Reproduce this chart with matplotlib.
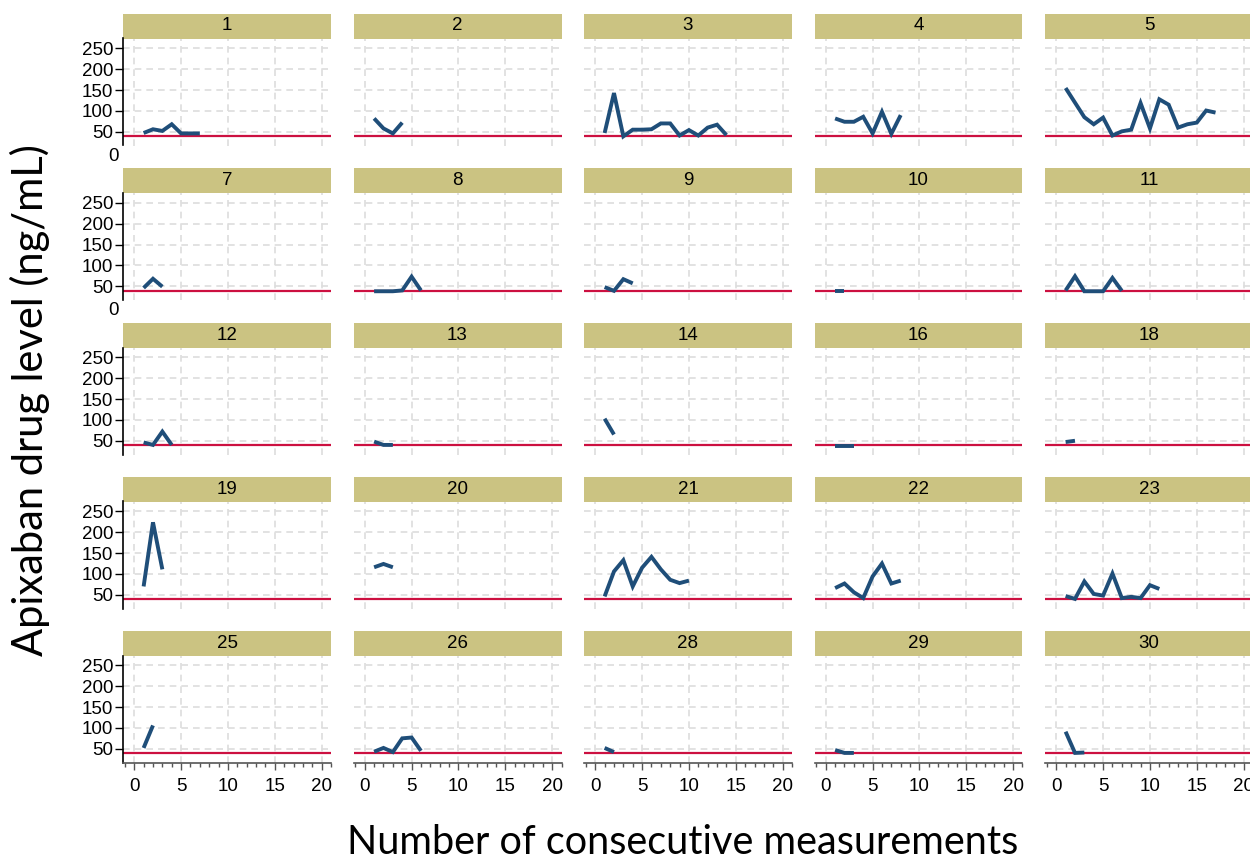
import matplotlib
matplotlib.use("Agg")
import matplotlib.pyplot as plt
from matplotlib.ticker import MultipleLocator

plt.rcParams['font.family'] = ['Liberation Sans', 'DejaVu Sans']

# threshold line and axis ticks
threshold = 39
y_ticks = [50, 100, 150, 200, 250]
x_ticks = [0, 5, 10, 15, 20]

# drug level per consecutive measurement, one list per patient
levels_1 = [47, 56, 52, 68, 46, 46, 46]
levels_2 = [82, 58, 46, 72]
levels_3 = [47, 143, 39, 55, 55, 56, 70, 70, 41, 54, 41, 60, 67, 42]
levels_4 = [82, 74, 74, 86, 46, 98, 45, 90]
levels_5 = [155, 120, 85, 68, 84, 41, 51, 55, 119, 58, 128, 115, 60, 68, 72, 101, 96]
levels_7 = [46, 68, 49]
levels_8 = [38, 38, 38, 40, 73, 40]
levels_9 = [48, 39, 67, 57]
levels_10 = [38, 38]
levels_11 = [40, 74, 38, 38, 38, 70, 39]
levels_12 = [46, 40, 72, 40]
levels_13 = [48, 40, 40]
levels_14 = [103, 65]
levels_16 = [38, 38, 38]
levels_18 = [47, 50]
levels_19 = [70, 224, 111]
levels_20 = [116, 124, 116]
levels_21 = [46, 106, 133, 70, 115, 141, 111, 86, 78, 84]
levels_22 = [66, 77, 56, 42, 94, 125, 77, 84]
levels_23 = [47, 40, 82, 52, 48, 101, 42, 45, 42, 73, 64]
levels_25 = [52, 106]
levels_26 = [43, 52, 42, 75, 77, 45]
levels_28 = [52, 42]
levels_29 = [47, 40, 40]
levels_30 = [91, 40, 41]

patient_ids = ["1", "2", "3", "4", "5",
               "7", "8", "9", "10", "11",
               "12", "13", "14", "16", "18",
               "19", "20", "21", "22", "23",
               "25", "26", "28", "29", "30"]
series = [levels_1, levels_2, levels_3, levels_4, levels_5,
          levels_7, levels_8, levels_9, levels_10, levels_11,
          levels_12, levels_13, levels_14, levels_16, levels_18,
          levels_19, levels_20, levels_21, levels_22, levels_23,
          levels_25, levels_26, levels_28, levels_29, levels_30]

W, H = 1250, 860
fig = plt.figure(figsize=(W / 100, H / 100), dpi=100)

# panel layout in pixels
col_left = [123, 353.5, 584, 814.5, 1045]
row_top = [13.5, 168, 322.5, 476.5, 630.5]
panel_w = 208
strip_h = 25
plot_h = 107

strip_color = "#cbc382"
line_color = "#1f4e79"
red_color = "#cc1040"

for i, (pid, vals) in enumerate(zip(patient_ids, series)):
    r, c = divmod(i, 5)
    left = col_left[c]
    top = row_top[r]

    # title strip
    sax = fig.add_axes([left / W, 1 - (top + strip_h) / H, panel_w / W, strip_h / H])
    sax.set_facecolor(strip_color)
    sax.set_xticks([])
    sax.set_yticks([])
    for s in sax.spines.values():
        s.set_visible(False)
    sax.text(0.5, 0.5, pid, ha="center", va="center", fontsize=13.5, transform=sax.transAxes)

    ax = fig.add_axes([left / W, 1 - (top + strip_h + plot_h) / H, panel_w / W, plot_h / H])
    ax.set_xlim(-1.2, 21)
    ax.set_ylim(17, 274)
    ax.set_xticks(x_ticks)
    ax.set_yticks(y_ticks)
    ax.grid(True, linestyle=(0, (4, 3)), color="#dddddd", linewidth=1.2)
    ax.set_axisbelow(True)

    ax.axhline(threshold, color=red_color, linewidth=1.6, zorder=2)
    x = list(range(1, len(vals) + 1))
    ax.plot(x, vals, color=line_color, linewidth=2.8, solid_joinstyle="miter",
            solid_capstyle="butt", zorder=3)

    ax.spines["top"].set_visible(False)
    ax.spines["right"].set_visible(False)

    if c == 0:
        ax.spines["left"].set_color("black")
        ax.spines["left"].set_linewidth(1.2)
        ax.tick_params(axis="y", length=6, width=1, pad=1, labelsize=13.5)
        if r < 2:
            ax.text(-0.02, -0.02, "0", transform=ax.transAxes, ha="right", va="top", fontsize=13.5)
    else:
        ax.spines["left"].set_visible(False)
        ax.tick_params(axis="y", length=0, labelleft=False)

    if r == 4:
        ax.spines["bottom"].set_color("#555555")
        ax.spines["bottom"].set_linewidth(1.2)
        ax.xaxis.set_minor_locator(MultipleLocator(1))
        ax.tick_params(axis="x", which="major", length=5, width=1, color="#555555", pad=6, labelsize=13.5)
        ax.tick_params(axis="x", which="minor", length=3, width=1, color="#555555")
    else:
        ax.spines["bottom"].set_visible(False)
        ax.tick_params(axis="x", length=0, labelbottom=False)

fig.text(683 / W, 1 - 843 / H, "Number of consecutive measurements", ha="center", va="center",
         fontsize=28.5, family=["Lato", "DejaVu Sans"])
fig.text(30 / W, 1 - 400 / H, "Apixaban drug level (ng/mL)", ha="center", va="center",
         rotation=90, fontsize=30, family=["Lato", "DejaVu Sans"])

fig.savefig("out.png", dpi=100)
